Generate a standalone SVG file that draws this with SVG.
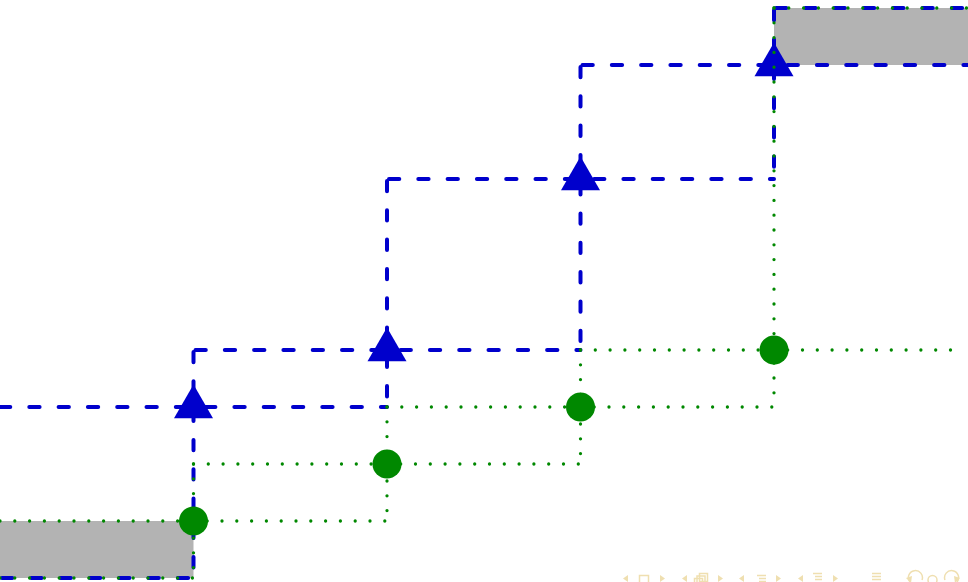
<svg xmlns="http://www.w3.org/2000/svg" width="968" height="582" viewBox="0 0 968 582">
<style>
.box{fill:#b3b3b3;stroke:none}
.bl{fill:none;stroke:#0000cc;stroke-width:4;stroke-dasharray:10.3 19;stroke-dashoffset:-2;stroke-linecap:round}
.gr{fill:none;stroke:#008800;stroke-width:3.3;stroke-dasharray:0 14.8;stroke-linecap:round}
.tri{fill:#0000cc}
.dot{fill:#008800}
.nav{fill:#efdfb0;stroke:none}
.navs{fill:none;stroke:#efdfb0;stroke-width:1.5}
</style>
<defs>
<polygon id="t" points="0,-22.5 19.5,11.25 -19.5,11.25"/>
</defs>
<rect width="968" height="582" fill="#ffffff"/>
<g id="box-bottom"><rect class="box" x="0" y="521" width="193.5" height="57"/></g>
<g id="box-top"><rect class="box" x="774" y="8" width="194" height="57"/></g>
<g id="connectors">
<g id="blue-lines">
<path class="bl" d="M-2,407 H387"/>
<path class="bl" d="M193.5,350 V578"/>
<path class="bl" d="M0,578 H193.5"/>
<path class="bl" d="M193.5,350 H580.5"/>
<path class="bl" d="M387,179 V407"/>
<path class="bl" d="M387,179 H774"/>
<path class="bl" d="M580.5,65 V350"/>
<path class="bl" d="M580.5,65 H968"/>
<path class="bl" d="M774,8 V179"/>
<path class="bl" d="M774,8 H968"/>
</g>
</g>
<g id="tri1"><use href="#t" class="tri" x="193.5" y="407"/></g>
<g id="tri2"><use href="#t" class="tri" x="387" y="350"/></g>
<g id="tri3"><use href="#t" class="tri" x="580.5" y="179"/></g>
<g id="tri4"><use href="#t" class="tri" x="774" y="65"/></g>
<g id="connectors-green">
<path class="gr" d="M0,521 H387"/>
<path class="gr" d="M193.5,464 V578"/>
<path class="gr" d="M0,578 H193.5"/>
<path class="gr" d="M193.5,464 H580.5"/>
<path class="gr" d="M387,407 V521"/>
<path class="gr" d="M387,407 H774"/>
<path class="gr" d="M580.5,350 V464"/>
<path class="gr" d="M580.5,350 H960"/>
<path class="gr" d="M774,8 V407"/>
<path class="gr" d="M774,8 H968"/>
</g>
<g id="circ1"><circle class="dot" cx="193.5" cy="521" r="14.5"/></g>
<g id="circ2"><circle class="dot" cx="387" cy="464" r="14.5"/></g>
<g id="circ3"><circle class="dot" cx="580.5" cy="407" r="14.5"/></g>
<g id="circ4"><circle class="dot" cx="774" cy="350" r="14.5"/></g>
<g id="nav">
<polygon class="nav" points="628,575 623,578.5 628,582"/>
<rect class="navs" x="639.5" y="575.5" width="9" height="8"/>
<polygon class="nav" points="660,575 665,578.5 660,582"/>
<polygon class="nav" points="687,575 682,578.5 687,582"/>
<rect class="navs" x="699.5" y="573.5" width="8" height="8"/>
<rect class="navs" x="697" y="576" width="8" height="8"/>
<rect class="navs" x="694.5" y="578.5" width="8" height="8"/>
<polygon class="nav" points="718,575 723,578.5 718,582"/>
<polygon class="nav" points="744,575 739,578.5 744,582"/>
<path class="navs" d="M757,575.5 H766 M759,578.5 H766 M759,581.5 H766"/>
<polygon class="nav" points="776,575 781,578.5 776,582"/>
<polygon class="nav" points="803,575 798,578.5 803,582"/>
<path class="navs" d="M813,573.5 H822 M815,576.5 H822 M815,579.5 H822"/>
<polygon class="nav" points="833,575 838,578.5 833,582"/>
<path class="navs" d="M872,573.5 H881 M872,576.5 H881 M872,579.5 H881"/>
<path class="navs" d="M910,582 A7,7 0 1 1 922,580"/>
<polygon class="nav" points="906,578 912,576 911,583"/>
<circle class="navs" cx="932.5" cy="580" r="4.5"/>
<path class="navs" d="M945,580 A7,7 0 1 1 957,582"/>
<polygon class="nav" points="960,578 954,576 955,583"/>
</g>
</svg>
